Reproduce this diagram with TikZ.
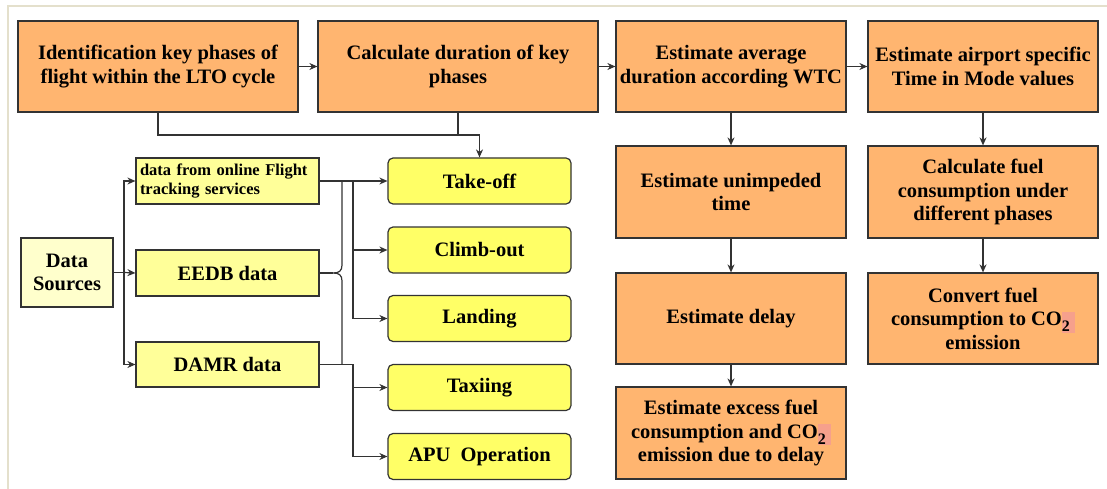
\documentclass[tikz,border=0pt]{standalone}
\usepackage{fontspec}
\setmainfont{Liberation Serif}
\usetikzlibrary{arrows.meta}
\definecolor{orng}{HTML}{FFB570}
\definecolor{ylw}{HTML}{FFFF66}
\definecolor{ylwb}{HTML}{FFFF99}
\definecolor{ylwc}{HTML}{FFFFCC}
\definecolor{hlc}{HTML}{F6A08C}
\definecolor{frm}{HTML}{E4E0CC}
\definecolor{edgec}{HTML}{333333}
\newcommand\cotwo{CO{\fboxsep=0pt\colorbox{hlc}{\rule[-7pt]{0pt}{21pt}\raisebox{-6pt}{\fontsize{16}{16}\selectfont 2}\hspace{5pt}}}}
\begin{document}
\begin{tikzpicture}[x=1pt,y=-1pt,
  base/.style={draw=edgec, line width=1.2pt, inner sep=0pt, align=center, font=\bfseries\fontsize{20.5}{23.5}\selectfont},
  obox/.style={base, fill=orng, minimum height=91pt},
  dbox/.style={base, fill=ylwb, minimum width=183pt, minimum height=46pt},
  pbox/.style={base, fill=ylw, rounded corners=5pt, minimum width=183pt, minimum height=46pt},
  conn/.style={draw=edgec, line width=1.2pt},
  arr/.style={conn, -{Stealth[length=8pt,width=7pt]}}]
\useasboundingbox (0,0) rectangle (1107,489);
\fill[white] (0,0) rectangle (1107,489);
\draw[frm, line width=2pt] (8,489) -- (8,6) -- (1107,6);

% top row
\node[obox, minimum width=280pt] (b1) at (158,66.5) {Identification key phases of\\flight within the LTO cycle};
\node[obox, minimum width=280pt] (b2) at (458,66.5) {Calculate duration of key\\phases};
\node[obox, minimum width=230pt] (b3) at (731,66.5) {Estimate average\\duration according WTC};
\node[obox, minimum width=230pt] (b4) at (983,66.5) {Estimate airport specific\\Time in Mode values};
% column 3
\node[obox, minimum width=230pt, minimum height=92pt] (c3) at (731,192) {Estimate unimpeded\\time};
\node[obox, minimum width=230pt] (d3) at (731,318.5) {Estimate delay};
\node[obox, minimum width=230pt, minimum height=92pt] (e3) at (731,433) {Estimate excess fuel\\consumption and \cotwo\\emission due to delay};
% column 4
\node[obox, minimum width=230pt, minimum height=92pt] (c4) at (983,192) {Calculate fuel\\consumption under\\different phases};
\node[obox, minimum width=230pt] (d4) at (983,318.5) {Convert fuel\\consumption to \cotwo\\emission};

% data sources
\node[base, fill=ylwc, minimum width=92pt, minimum height=69pt] (ds) at (67,272.5) {Data\\Sources};
\node[dbox, text width=175pt, align=left, font=\bfseries\fontsize{16.5}{19.5}\selectfont] (fl) at (227.5,181) {data from online Flight\\tracking services};
\node[dbox] (ee) at (227.5,273) {EEDB data};
\node[dbox, minimum height=45pt] (dm) at (227.5,364.5) {DAMR data};

% phases
\node[pbox] (tk) at (479.5,181) {Take-off};
\node[pbox] (cl) at (479.5,250) {Climb-out};
\node[pbox] (ld) at (479.5,318.5) {Landing};
\node[pbox] (tx) at (479.5,387.5) {Taxiing};
\node[pbox] (ap) at (479.5,456.5) {APU\ \ Operation};

% top row arrows
\draw[arr] (b1) -- (b2);
\draw[arr] (b2) -- (b3);
\draw[arr] (b3) -- (b4);
\draw[arr] (b3) -- (c3);
\draw[arr] (c3) -- (d3);
\draw[arr] (d3) -- (e3);
\draw[arr] (b4) -- (c4);
\draw[arr] (c4) -- (d4);

% from top boxes to take-off
\coordinate (j1) at (479.5,135);
\draw[arr] (b1.south) |- (j1) -- (tk.north);
\draw[conn] (b2.south) -- (b2.south |- j1);

% data sources fan-out
\coordinate (s1) at (124,272.5);
\draw[conn] (ds.east) -- (s1);
\draw[arr] (s1) |- (fl.west);
\draw[arr] (s1) -- (ee.west);
\draw[arr] (s1) |- (dm.west);

% data to phases
\coordinate (v1) at (342,181);
\coordinate (v2) at (353,181);
\coordinate (v3) at (353,364.5);
\draw[arr] (fl.east) -- (tk.west);
\draw[conn] (v1) -- (342,265) .. controls (342,271) and (339,273) .. (333,273)
   .. controls (339,273) and (342,275) .. (342,281) -- (v1 |- dm.east);
\draw[conn] (ee.east) -- (333,273);
\draw[conn] (v2) -- (v2 |- ld.west);
\draw[arr] (v2 |- cl.west) -- (cl.west);
\draw[arr] (v2 |- ld.west) -- (ld.west);
\draw[conn] (dm.east) -- (v3) -- (v3 |- ap.west);
\draw[arr] (v3 |- tx.west) -- (tx.west);
\draw[arr] (v3 |- ap.west) -- (ap.west);
\end{tikzpicture}
\end{document}
